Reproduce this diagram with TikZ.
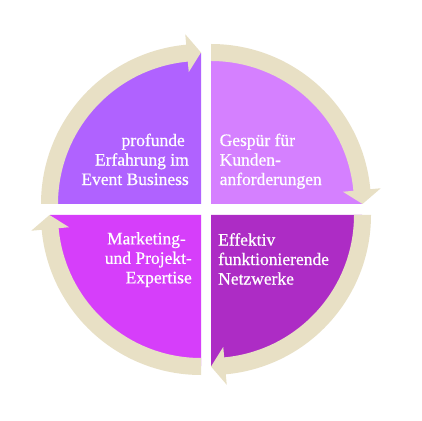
\documentclass[tikz,border=0pt]{standalone}
\usepackage{fontspec}
\setmainfont{Liberation Serif}
\newfontfamily\lblfont{Liberation Serif}[FakeBold=0.6]
\definecolor{cTL}{RGB}{176,98,255}
\definecolor{cTR}{RGB}{213,128,255}
\definecolor{cBL}{RGB}{214,62,250}
\definecolor{cBR}{RGB}{173,44,197}
\definecolor{cBand}{RGB}{232,224,197}
\newcommand\cyclearrow[2]{%
  \begin{scope}[shift={#1}]
    \fill[bandfill] (#2:143) arc[start angle=#2, delta angle=-84.7, radius=143]
      -- ({#2-84.7}:132.5) -- ({#2-90}:151.5) -- ({#2-84.7}:170.5)
      -- ({#2-84.7}:160) arc[start angle={#2-84.7}, delta angle=84.7, radius=160] -- cycle;
  \end{scope}}
\newcommand\ls{\rule[-5pt]{0pt}{14.5pt}}
\tikzset{
  bandfill/.style={fill=cBand},
  lbl/.style={text=white, inner sep=0pt, font=\lblfont\fontsize{17.5}{19.5}\selectfont}
}
\begin{document}
\begin{tikzpicture}[x=1pt,y=1pt]
\useasboundingbox (0,0) rectangle (422,420);
\fill[white] (0,0) rectangle (422,420);
% quarter pies
\fill[cTL] (201,216) -- ++(90:151) arc[start angle=90,end angle=180,radius=151] -- cycle;
\fill[cTR] (211,216) -- ++(0:151) arc[start angle=0,end angle=90,radius=151] -- cycle;
\fill[cBL] (201,205) -- ++(180:151) arc[start angle=180,end angle=270,radius=151] -- cycle;
\fill[cBR] (211,205) -- ++(270:151) arc[start angle=270,end angle=360,radius=151] -- cycle;
% cycle arrows
\cyclearrow{(201,216)}{180}
\cyclearrow{(211,216)}{90}
\cyclearrow{(211,205)}{0}
\cyclearrow{(201,205)}{270}
% labels
\node[lbl, anchor=north east, align=right] (tl) at (189,286.5)
  {\ls profunde\hspace*{4pt}\\\ls Erfahrung im\hspace*{4pt}\\\ls Event Business};
\node[lbl, anchor=north west, align=left] (tr) at (219.5,286.5)
  {\ls Gespür für\\\ls Kunden-\\\ls anforderungen};
\node[lbl, anchor=north east, align=right] (bl) at (192,188)
  {\ls Marketing-\hspace*{6pt}\\\ls und Projekt-\hspace*{6pt}\\\ls Expertise};
\node[lbl, anchor=north west, align=left] (br) at (218,187)
  {\ls Effektiv\\\ls funktionierende\\\ls Netzwerke};
\end{tikzpicture}
\end{document}
